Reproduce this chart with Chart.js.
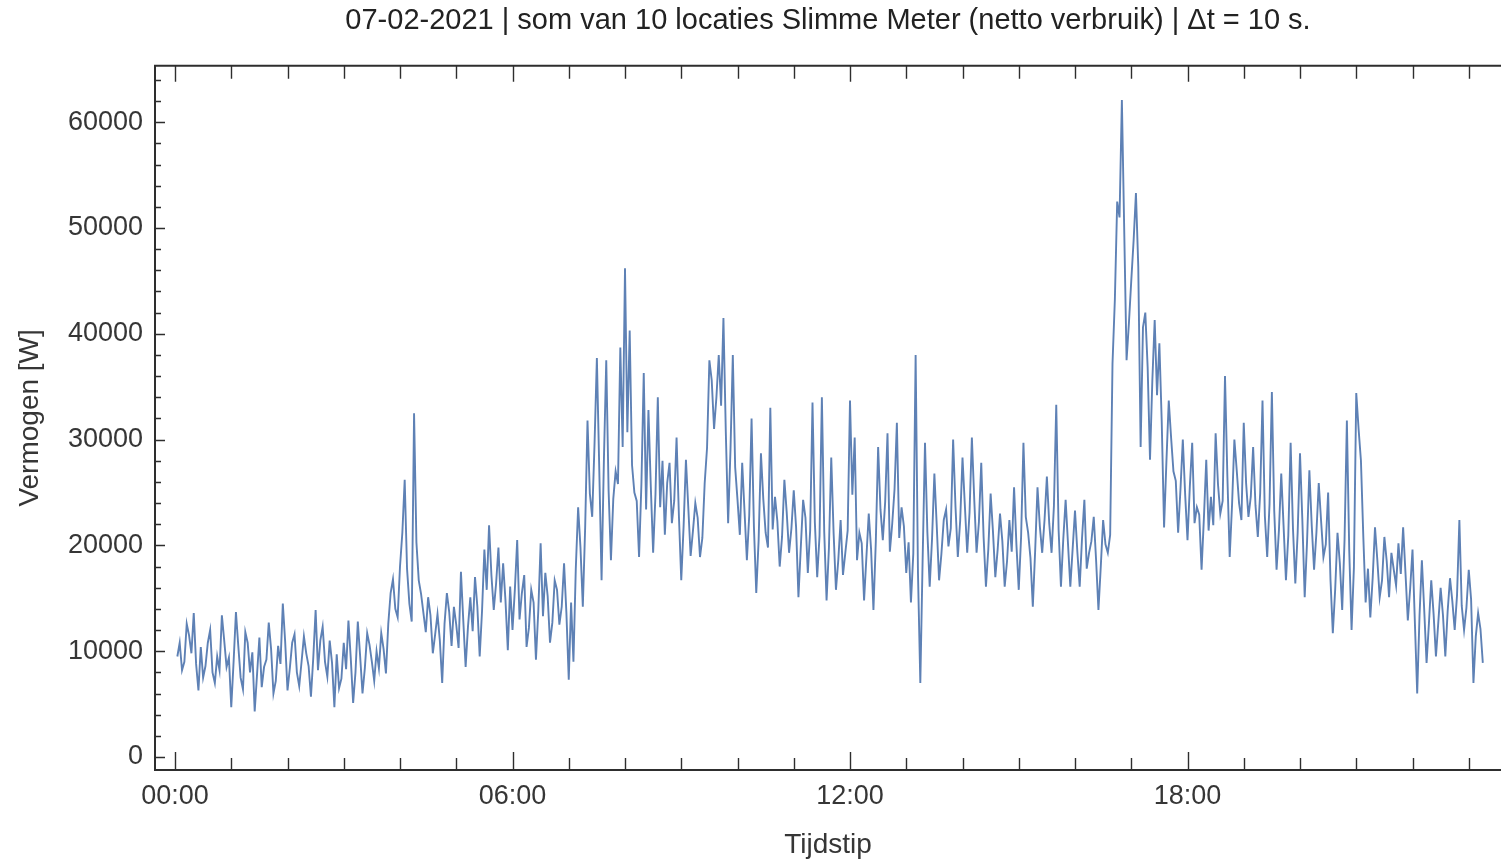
<!DOCTYPE html>
<html lang="nl">
<head>
<meta charset="utf-8">
<title>Slimme Meter 07-02-2021</title>
<script src="https://cdn.jsdelivr.net/npm/chart.js@4.4.1/dist/chart.umd.min.js"></script>
<style>
  html, body { margin: 0; padding: 0; background: #ffffff; }
  #powerChart { display: block; }
</style>
</head>
<body>
<canvas id="powerChart" width="1501" height="862"></canvas>
<script>
const SAMPLE_MINUTES = 2.5;

// one row per hour
const powerNight = [ // 00:02 - 04:00
  9500, 10800, 8200, 9000, 12600, 11500, 9800, 13600, 8800, 6300, 10400, 7500, 8600, 10800, 12000, 8000, 7000, 9500, 8200, 13400, 11000, 8500, 9400, 4700,
  9000, 13700, 10500, 7500, 6400, 11800, 10800, 8000, 9900, 4300, 7800, 11300, 6600, 8500, 9200, 12700, 10200, 6000, 7200, 10500, 8800, 14500, 10900, 6300,
  8400, 10800, 11600, 8000, 6700, 9000, 11400, 9800, 8600, 5700, 9400, 13900, 8200, 11000, 12300, 9000, 7600, 11000, 8900, 4700, 9700, 6500, 7400, 10800,
  8300, 12900, 9300, 5100, 8000, 12800, 9500, 6000, 8400, 11700, 10600, 9000, 7200, 10000, 8400, 11700, 10200, 7900, 12600, 15500, 16800, 14000, 13200, 18000,
];
const powerMorning = [ // 04:02 - 08:00
  21200, 26200, 17800, 14500, 12800, 32500, 20300, 16700, 15400, 13600, 11800, 15100, 13400, 9800, 11600, 13500, 11000, 7000, 12600, 15500, 13700, 10500, 14200, 12500,
  10300, 17500, 12900, 8500, 12300, 15100, 11900, 17000, 14200, 9500, 13800, 19600, 15800, 21900, 17200, 13900, 16400, 19800, 14600, 18300, 14800, 10100, 16100, 12000,
  15800, 20500, 13000, 15500, 17200, 10400, 12200, 15800, 14600, 9200, 13800, 20200, 13300, 17400, 15200, 10800, 12700, 16700, 15800, 12500, 14200, 18300, 13600, 7300,
  14600, 9000, 17800, 23600, 19800, 14200, 21700, 31800, 24900, 22700, 29600, 37700, 27400, 16700, 28100, 37500, 25200, 18600, 24400, 27000, 25800, 38700, 29300, 46200,
];
const powerForenoon = [ // 08:02 - 12:00
  30700, 40300, 27600, 25000, 24200, 18900, 25800, 36300, 23400, 32800, 25600, 19300, 24800, 34000, 23600, 28000, 21000, 25900, 27800, 22100, 24200, 30200, 22800, 16700,
  21800, 28100, 23600, 19000, 21400, 24000, 22600, 18900, 20700, 25900, 29200, 37500, 35600, 31000, 34000, 38000, 33200, 41500, 30800, 22100, 29000, 38000, 27400, 24300,
  21000, 27800, 23200, 18600, 22800, 32000, 21800, 15500, 20400, 28700, 24400, 21200, 19800, 33000, 21500, 24600, 22300, 18000, 20800, 26200, 23100, 19300, 21600, 25200,
  21700, 15100, 19800, 24300, 22600, 17400, 21400, 33500, 22200, 17000, 20900, 34000, 21300, 14800, 19700, 28300, 21200, 15800, 18600, 22400, 17200, 19300, 21400, 33700,
];
const powerAfternoon = [ // 12:02 - 16:00
  24800, 30200, 18600, 21200, 20200, 14800, 18900, 23000, 19600, 13900, 20300, 29300, 23400, 20500, 24100, 30600, 19400, 22000, 25300, 31600, 20700, 23600, 21800, 17400,
  20300, 14600, 19200, 38000, 17400, 7000, 18800, 29700, 21300, 16100, 20600, 26800, 21900, 16700, 19200, 22400, 23400, 19900, 21600, 30000, 23700, 18900, 22300, 28300,
  23800, 19300, 23100, 30200, 24400, 19300, 22200, 27800, 20800, 16100, 19600, 24900, 21300, 17000, 19600, 23000, 20400, 16100, 18500, 22400, 19400, 25500, 20100, 15800,
  20800, 29700, 22700, 21200, 18800, 14200, 19500, 25500, 21800, 19300, 22400, 26500, 22100, 19300, 23700, 33300, 21500, 16100, 20600, 24300, 20200, 16100, 19700, 23300,
];
const powerEvening = [ // 16:02 - 20:00
  19400, 16100, 20700, 24300, 17800, 19300, 20400, 22700, 18600, 13900, 18000, 22400, 20100, 19300, 21000, 37200, 43200, 52500, 51000, 62100, 49800, 37500, 41000, 45000,
  48800, 53300, 46300, 29300, 40600, 42000, 36800, 28100, 35600, 41300, 34200, 39100, 31700, 21700, 27900, 33700, 30200, 27000, 26100, 21200, 25300, 30000, 24800, 20500,
  25600, 29700, 22100, 23600, 22900, 17700, 22600, 28100, 21400, 24600, 21900, 30600, 25800, 23000, 24200, 36000, 26600, 18900, 23800, 30000, 27100, 24000, 22400, 31600,
  25900, 22700, 24600, 29300, 23800, 20800, 24900, 33700, 22800, 18900, 23900, 34500, 23300, 17700, 21400, 26800, 21800, 16700, 20900, 29700, 21600, 16400, 21200, 28700,
];
const powerLate = [ // 20:02 - 23:15
  22400, 15100, 20300, 27100, 21900, 17700, 21200, 25900, 22300, 18900, 20100, 25000, 16800, 11700, 15800, 21200, 18300, 13900, 20500, 31800, 19600, 12000, 17900, 34400,
  31000, 28000, 20900, 14600, 17800, 13200, 16900, 21700, 18600, 15100, 16700, 20800, 18500, 15100, 19300, 17700, 16200, 20200, 17300, 21700, 17400, 12900, 15900, 19600,
  12800, 6000, 13400, 18600, 13900, 8900, 12600, 16700, 13500, 9500, 12700, 16000, 13400, 9500, 13800, 16900, 14700, 12000, 15300, 22400, 14300, 12000, 14100, 17700,
  14900, 7000, 11400, 13600, 12100, 8900,
];

// axis ticks
const hourTicks = [0, 1, 2, 3, 4, 5, 6, 7, 8, 9, 10, 11, 12, 13, 14, 15, 16, 17, 18, 19, 20, 21, 22, 23];
const hourTicksLabelled = [0, 6, 12, 18];
const powerTicks = [0, 10000, 20000, 30000, 40000, 50000, 60000];
const powerMinorStep = 2000;

const powerValues = [
  ...powerNight, ...powerMorning, ...powerForenoon,
  ...powerAfternoon, ...powerEvening, ...powerLate,
];
const powerPoints = powerValues.map((value, index) => ({
  x: ((index + 1) * SAMPLE_MINUTES) / 60,
  y: value,
}));

const FONT_FAMILY = "'Liberation Sans', Arial, sans-serif";
const FRAME_COLOR = "#2e2e2e";
const LABEL_COLOR = "#363636";

const formatHour = (hour) => `${String(hour).padStart(2, "0")}:00`;

// Mathematica-style frame with inward ticks on bottom, top and left
const frameTicks = {
  id: "frameTicks",
  afterDatasetsDraw(chart) {
    const { ctx, chartArea, scales } = chart;
    const { left, right, top, bottom } = chartArea;

    ctx.save();
    ctx.strokeStyle = FRAME_COLOR;
    ctx.lineWidth = 2;
    ctx.beginPath();
    ctx.moveTo(right, top);
    ctx.lineTo(left, top);
    ctx.lineTo(left, bottom);
    ctx.lineTo(right, bottom);
    ctx.stroke();

    ctx.lineWidth = 1.4;
    ctx.beginPath();
    hourTicks.forEach((hour) => {
      const px = Math.round(scales.x.getPixelForValue(hour)) + 0.5;
      const isMajor = hourTicksLabelled.includes(hour);
      const bottomLength = isMajor ? 18 : 12;
      const topLength = isMajor ? 16 : 13;
      ctx.moveTo(px, bottom);
      ctx.lineTo(px, bottom - bottomLength);
      ctx.moveTo(px, top);
      ctx.lineTo(px, top + topLength);
    });
    for (let v = 0; v <= scales.y.max; v += powerMinorStep) {
      const py = Math.round(scales.y.getPixelForValue(v)) + 0.5;
      const length = powerTicks.includes(v) ? 10 : 6;
      ctx.moveTo(left, py);
      ctx.lineTo(left + length, py);
    }
    ctx.stroke();
    ctx.restore();
  },
};

const chart = new Chart(document.getElementById("powerChart"), {
  type: "line",
  data: {
    datasets: [
      {
        label: "Vermogen",
        data: powerPoints,
        borderColor: "#5e81b5",
        borderWidth: 1.9,
        pointRadius: 0,
        tension: 0,
        fill: false,
      },
    ],
  },
  options: {
    responsive: false,
    animation: false,
    devicePixelRatio: 1,
    layout: { padding: 0 },
    plugins: {
      legend: { display: false },
      tooltip: { enabled: false },
      title: {
        display: true,
        fullSize: false,
        text: "07-02-2021 | som van 10 locaties Slimme Meter (netto verbruik) | Δt = 10 s.",
        color: "#222222",
        font: { family: FONT_FAMILY, size: 29, weight: "normal" },
        padding: { top: 4, bottom: 27 },
      },
    },
    scales: {
      x: {
        type: "linear",
        min: -0.3556,
        max: 23.5733,
        afterBuildTicks: (scale) => {
          scale.ticks = hourTicksLabelled.map((value) => ({ value }));
        },
        afterFit: (scale) => { scale.height = 92; },
        grid: { display: false, drawTicks: false },
        border: { display: false },
        ticks: {
          autoSkip: false,
          maxRotation: 0,
          padding: 10,
          color: LABEL_COLOR,
          font: { family: FONT_FAMILY, size: 27 },
          callback: (value) => formatHour(value),
        },
        title: {
          display: true,
          text: "Tijdstip",
          color: LABEL_COLOR,
          font: { family: FONT_FAMILY, size: 28 },
          padding: { top: 0, bottom: 0 },
        },
      },
      y: {
        type: "linear",
        min: -1229,
        max: 65330,
        afterBuildTicks: (scale) => {
          scale.ticks = powerTicks.map((value) => ({ value }));
        },
        afterFit: (scale) => { scale.width = 155; },
        grid: { display: false, drawTicks: false },
        border: { display: false },
        ticks: {
          autoSkip: false,
          padding: 12,
          color: LABEL_COLOR,
          font: { family: FONT_FAMILY, size: 27 },
          callback: (value) => String(value),
        },
        title: {
          display: true,
          text: "Vermogen [W]",
          color: LABEL_COLOR,
          font: { family: FONT_FAMILY, size: 28 },
          padding: { top: 13, bottom: 0 },
        },
      },
    },
  },
  plugins: [frameTicks],
});
</script>
</body>
</html>
